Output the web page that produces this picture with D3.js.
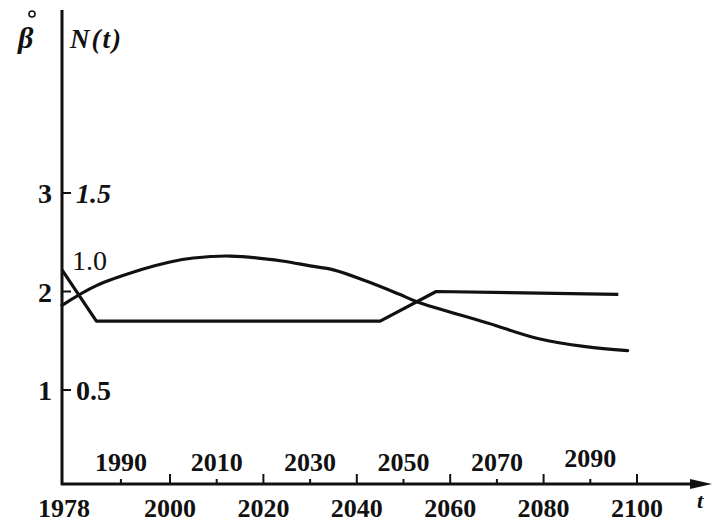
<!DOCTYPE html>
<html>
<head>
<meta charset="utf-8">
<script src="https://cdn.jsdelivr.net/npm/d3@7"></script>
<style>
  html, body { margin: 0; padding: 0; background: #fff; }
  svg { display: block; }
  text { font-family: "Liberation Serif", "DejaVu Serif", serif; fill: #111; }
</style>
</head>
<body>
<svg id="chart" width="713" height="524"></svg>
<script>
// Population index N(t) (right-hand scale) and fertility β (left-hand scale)
const nYears  = [1978, 1985, 1994, 2000, 2005, 2013, 2024, 2030, 2035, 2042, 2049, 2053, 2068, 2079, 2089, 2098];
const nValues = [0.93, 1.03, 1.11, 1.15, 1.17, 1.18, 1.155, 1.13, 1.11, 1.053, 0.987, 0.947, 0.84, 0.76, 0.72, 0.70];

const betaYears  = [1978, 1985, 2045, 2057, 2096];
const betaValues = [2.22, 1.70, 1.70, 2.00, 1.97];

const lowerYearTicks = [1978, 2000, 2020, 2040, 2060, 2080, 2100];
const upperYearTicks = [1990, 2010, 2030, 2050, 2070, 2090];
const betaTicks = [1, 2, 3];
const nTicks = ["0.5", "1.0", "1.5"];

const svg = d3.select("#chart");
const ink = "#111";

const axisX = 62, axisY = 484;

// time axis (slightly stretched at the start, as drawn)
const x = d3.scaleLinear().domain([1978, 2000, 2100]).range([axisX, 170, 637]);
const yN = d3.scaleLinear().domain([0.5, 1.5]).range([390, 193]);
const yB = d3.scaleLinear().domain([1, 3]).range([390, 193]);

// axes
svg.append("line").attr("x1", axisX).attr("x2", axisX).attr("y1", 10).attr("y2", axisY + 1)
  .attr("stroke", ink).attr("stroke-width", 3);
svg.append("line").attr("x1", axisX - 1).attr("x2", 696).attr("y1", axisY).attr("y2", axisY)
  .attr("stroke", ink).attr("stroke-width", 3);
svg.append("path").attr("d", `M690,${axisY - 5}L712,${axisY}L690,${axisY + 5}Z`).attr("fill", ink);

// x ticks
lowerYearTicks.slice(1).forEach(yr => {
  svg.append("line").attr("x1", x(yr)).attr("x2", x(yr)).attr("y1", axisY).attr("y2", axisY - 10)
    .attr("stroke", ink).attr("stroke-width", 2);
});
upperYearTicks.forEach(yr => {
  svg.append("line").attr("x1", x(yr)).attr("x2", x(yr)).attr("y1", axisY).attr("y2", axisY - 5)
    .attr("stroke", ink).attr("stroke-width", 2);
});

svg.selectAll(".ylow").data(lowerYearTicks).join("text")
  .attr("x", d => x(d) + (d === 1978 ? 2 : 0)).attr("y", 517)
  .attr("text-anchor", "middle").attr("font-weight", "bold").attr("font-size", 26)
  .text(d => d);
svg.selectAll(".yup").data(upperYearTicks).join("text")
  .attr("x", d => x(d)).attr("y", d => d === 2090 ? 467 : 471)
  .attr("text-anchor", "middle").attr("font-weight", "bold").attr("font-size", 26)
  .text(d => d);

svg.append("text").attr("x", 700).attr("y", 508).attr("text-anchor", "middle")
  .attr("font-style", "italic").attr("font-weight", "bold").attr("font-size", 22).text("t");

// left-hand β ticks
svg.selectAll(".bt").data(betaTicks).join("text")
  .attr("x", 52).attr("y", d => yB(d) + 10)
  .attr("text-anchor", "end").attr("font-weight", "bold").attr("font-size", 28)
  .text(d => d);

// right-hand N ticks
nTicks.forEach(t => {
  const v = +t;
  svg.append("line").attr("x1", axisX).attr("x2", axisX + 9).attr("y1", yN(v)).attr("y2", yN(v))
    .attr("stroke", ink).attr("stroke-width", 2);
});
svg.append("text").attr("x", 76).attr("y", yN(1.5) + 10)
  .attr("font-style", "italic").attr("font-weight", "bold").attr("font-size", 28).text(nTicks[2]);
svg.append("text").attr("x", 76).attr("y", yN(0.5) + 10)
  .attr("font-weight", "bold").attr("font-size", 28).text(nTicks[0]);
svg.append("text").attr("x", 72).attr("y", yN(1.0) - 22)
  .attr("font-size", 28).text(nTicks[1]);

// axis titles
svg.append("text").attr("x", 18).attr("y", 48)
  .attr("font-style", "italic").attr("font-weight", "bold").attr("font-size", 30).text("β");
svg.append("circle").attr("cx", 32).attr("cy", 14).attr("r", 3)
  .attr("fill", "none").attr("stroke", ink).attr("stroke-width", 1.6);
svg.append("text").attr("x", 70).attr("y", 48).attr("letter-spacing", 2)
  .attr("font-style", "italic").attr("font-weight", "bold").attr("font-size", 27).text("N(t)");

// curves
const nLine = d3.line().x((d, i) => x(nYears[i])).y(d => yN(d)).curve(d3.curveCatmullRom.alpha(0.5));
svg.append("path").attr("d", nLine(nValues)).attr("fill", "none")
  .attr("stroke", ink).attr("stroke-width", 3.2).attr("stroke-linecap", "round");

const bLine = d3.line().x((d, i) => x(betaYears[i])).y(d => yB(d));
svg.append("path").attr("d", bLine(betaValues)).attr("fill", "none")
  .attr("stroke", ink).attr("stroke-width", 3.2).attr("stroke-linejoin", "round");
</script>
</body>
</html>
